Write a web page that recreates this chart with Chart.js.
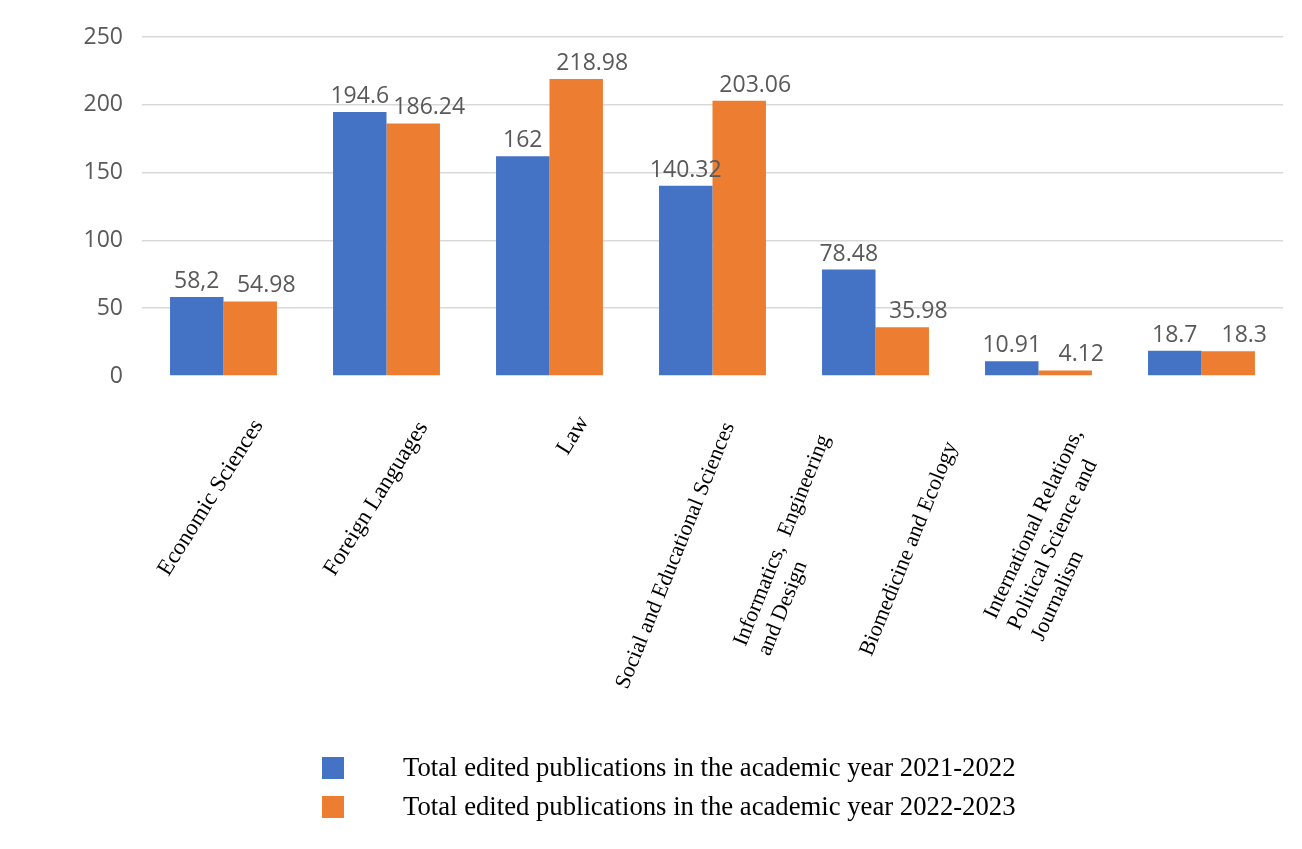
<!DOCTYPE html>
<html>
<head>
<meta charset="utf-8">
<title>Edited publications by faculty</title>
<script src="https://cdn.jsdelivr.net/npm/chart.js@4.4.1/dist/chart.umd.min.js"></script>
<style>
    html, body { margin: 0; padding: 0; background: #fff; }
    #wrap { position: relative; width: 1302px; height: 849px; }
    #legend {
        position: absolute;
        left: 322px;
        top: 748px;
        font-family: "Liberation Serif", "Times New Roman", serif;
        font-size: 26.7px;
        color: #000;
    }
    .legend-item { display: flex; align-items: center; height: 39px; }
    .legend-box { width: 22px; height: 22px; margin-right: 59px; }
</style>
</head>
<body>
<div id="wrap">
    <canvas id="chart" width="1302" height="849"></canvas>
    <div id="legend"></div>
</div>
<script>
// Facultades (una línea por elemento del array)
const faculties = [
    ['Economic Sciences'],
    ['Foreign Languages'],
    ['Law'],
    ['Social and Educational Sciences'],
    ['Informatics,  Engineering', 'and Design'],
    ['Biomedicine and Ecology'],
    ['International Relations,', 'Political Science and', 'Journalism']
];

// Publicaciones editadas por año académico
const edited2122 = [58.2, 194.6, 162, 140.32, 78.48, 10.91, 18.7];
const edited2223 = [54.98, 186.24, 218.98, 203.06, 35.98, 4.12, 18.3];

// Texto de las etiquetas sobre las barras
const edited2122Text = ['58,2', '194.6', '162', '140.32', '78.48', '10.91', '18.7'];
const edited2223Text = ['54.98', '186.24', '218.98', '203.06', '35.98', '4.12', '18.3'];

const seriesNames = [
    'Total edited publications in the academic year 2021-2022',
    'Total edited publications in the academic year 2022-2023'
];

const yMin = 0;
const yMax = 250;
const yStep = 50;

const colors = ['#4472C4', '#ED7D31'];

// Ajuste manual de cada etiqueta del eje X:
// desplazamiento desde el centro de la categoría, ángulo y tamaño de letra
const facultyLabelLayout = [
    { dx: -55, dy: 201, angle: 58, size: 23 },
    { dx: -52, dy: 201, angle: 58, size: 23 },
    { dx: 18, dy: 80, angle: 58, size: 23 },
    { dx: -85, dy: 314, angle: 68, size: 22 },
    { dx: -130, dy: 271, angle: 68, size: 22 },
    { dx: -167, dy: 281, angle: 68, size: 22 },
    { dx: -206, dy: 244, angle: 65, size: 22 }
];

// Valores encima de cada barra
const valueLabels = {
    id: 'valueLabels',
    afterDatasetsDraw(chart) {
        const { ctx } = chart;
        ctx.save();
        ctx.font = '23px "Open Sans"';
        ctx.fillStyle = '#595959';
        ctx.textAlign = 'center';
        ctx.textBaseline = 'alphabetic';
        chart.data.datasets.forEach((ds, i) => {
            chart.getDatasetMeta(i).data.forEach((bar, j) => {
                ctx.fillText(ds.valueText[j], bar.x + ds.valueShift, bar.y - 9);
            });
        });
        ctx.restore();
    }
};

// Etiquetas giradas de las facultades
const facultyLabels = {
    id: 'facultyLabels',
    afterDraw(chart) {
        const { ctx, chartArea } = chart;
        const xScale = chart.scales.x;
        ctx.save();
        ctx.fillStyle = '#000';
        ctx.textAlign = 'left';
        ctx.textBaseline = 'alphabetic';
        chart.data.labels.forEach((lines, i) => {
            const place = facultyLabelLayout[i];
            const x = xScale.getPixelForValue(i) + place.dx;
            const y = chartArea.bottom + place.dy;
            ctx.save();
            ctx.font = `${place.size}px "Liberation Serif", "Times New Roman", serif`;
            ctx.translate(x, y);
            ctx.rotate(-place.angle * Math.PI / 180);
            lines.forEach((line, k) => ctx.fillText(line, 0, k * 26));
            ctx.restore();
        });
        ctx.restore();
    }
};

function buildLegend(chart) {
    const legend = document.getElementById('legend');
    legend.innerHTML = chart.data.datasets.map(ds => `
        <div class="legend-item">
            <span class="legend-box" style="background:${ds.backgroundColor}"></span>
            <span>${ds.label}</span>
        </div>
    `).join('');
}

const chart = new Chart(document.getElementById('chart'), {
    type: 'bar',
    data: {
        labels: faculties,
        datasets: [
            {
                label: seriesNames[0],
                data: edited2122,
                valueText: edited2122Text,
                valueShift: 0,
                backgroundColor: colors[0],
                categoryPercentage: 0.656,
                barPercentage: 1.0
            },
            {
                label: seriesNames[1],
                data: edited2223,
                valueText: edited2223Text,
                valueShift: 16,
                backgroundColor: colors[1],
                categoryPercentage: 0.656,
                barPercentage: 1.0
            }
        ]
    },
    options: {
        responsive: false,
        animation: false,
        devicePixelRatio: 1,
        layout: {
            padding: { top: 37, right: 19, bottom: 473, left: 0 }
        },
        plugins: {
            legend: { display: false },
            tooltip: { enabled: false }
        },
        scales: {
            x: {
                display: false
            },
            y: {
                min: yMin,
                max: yMax,
                afterFit(scale) { scale.width = 142; },
                border: { display: false },
                grid: {
                    drawTicks: false,
                    lineWidth: 1.5,
                    color: c => (c.tick && c.tick.value === 0) ? 'rgba(0,0,0,0)' : '#D9D9D9'
                },
                ticks: {
                    stepSize: yStep,
                    padding: 19,
                    color: '#595959',
                    font: { family: '"Open Sans"', size: 23 }
                }
            }
        }
    },
    plugins: [valueLabels, facultyLabels]
});

buildLegend(chart);
</script>
</body>
</html>
